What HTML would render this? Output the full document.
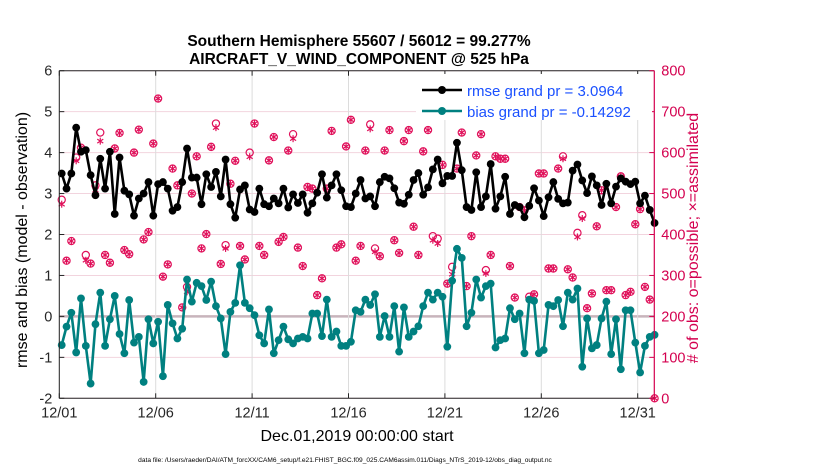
<!DOCTYPE html>
<html><head><meta charset="utf-8"><style>
body{margin:0;background:#fff;}
svg{display:block;font-family:"Liberation Sans",Arial,sans-serif;}
</style></head><body>
<svg id="chart" width="830" height="470" viewBox="0 0 830 470">
<rect width="830" height="470" fill="#fff"/>
<g id="grid"></g>
<g id="marks"></g>
<g id="axes"></g>
<text x="359" y="46" font-size="15.5" font-weight="bold" text-anchor="middle">Southern Hemisphere 55607 / 56012 = 99.277%</text>
<text x="359" y="64" font-size="15.5" font-weight="bold" text-anchor="middle">AIRCRAFT_V_WIND_COMPONENT @ 525 hPa</text>
<text x="357" y="441" font-size="16" text-anchor="middle">Dec.01,2019 00:00:00 start</text>
<text transform="translate(27,240) rotate(-90)" font-size="16" text-anchor="middle">rmse and bias (model - observation)</text>
<text transform="translate(698,238) rotate(-90)" font-size="16" text-anchor="middle" fill="#d4004f"># of obs: o=possible; ×=assimilated</text>
<text x="345" y="462" font-size="6.6" text-anchor="middle">data file: /Users/raeder/DAI/ATM_forcXX/CAM6_setup/f.e21.FHIST_BGC.f09_025.CAM6assim.011/Diags_NTrS_2019-12/obs_diag_output.nc</text>
<g>
<rect x="416" y="74" width="236" height="46" fill="#fff"/>
<g>
<line x1="422" y1="90" x2="462" y2="90" stroke="#000" stroke-width="2.5"/><circle cx="442" cy="90" r="4" fill="#000"/>
<text x="467" y="96" font-size="15" fill="#1a50ff">rmse grand pr = 3.0964</text></g>
<g>
<line x1="422" y1="111" x2="462" y2="111" stroke="#008080" stroke-width="2.5"/><circle cx="442" cy="111" r="4" fill="#008080"/>
<text x="467" y="117" font-size="15" fill="#1a50ff">bias grand pr = -0.14292</text></g>
</g>
</svg>
<script>
const rmse=[3.49,3.12,3.49,4.61,4.02,4.06,3.45,2.96,3.85,3.12,4.02,2.50,3.88,3.07,2.98,2.46,2.88,3.0,3.28,2.46,3.23,3.28,3.12,2.58,2.67,3.28,4.10,3.39,3.39,2.74,3.47,3.16,
3.53,2.93,3.83,2.74,2.41,3.10,3.20,2.61,2.55,3.12,2.74,2.69,2.88,2.76,3.12,2.66,2.98,2.77,2.98,2.53,2.76,3.02,3.47,2.90,3.20,3.47,3.08,2.69,2.67,3.0,
3.33,2.88,2.93,2.69,3.28,3.41,3.37,3.13,2.78,2.75,2.97,3.33,3.50,2.97,3.15,3.59,3.83,3.25,3.43,3.43,4.24,3.57,2.67,2.60,3.52,2.67,2.93,3.72,2.63,2.93,
3.41,2.5,2.72,2.67,2.42,2.7,3.13,2.83,2.45,2.91,3.28,2.87,2.76,2.78,3.56,3.71,3.32,3.01,3.42,3.2,2.72,3.24,2.76,3.17,3.37,3.29,3.23,3.29,2.76,2.95,2.6,2.28];
const bias=[-0.7,-0.25,0.09,-0.88,0.44,-0.72,-1.64,-0.19,0.58,-0.72,-0.07,0.5,-0.43,-0.9,0.4,-0.64,-0.5,-1.6,-0.07,-0.66,-0.13,-1.46,0.28,-0.17,-0.54,-0.3,0.9,0.36,0.82,0.74,0.4,0.85,
0.25,-0.05,-0.92,0.11,0.33,1.25,0.33,0.2,0.03,-0.46,-0.66,0.17,-0.9,-0.58,-0.25,-0.56,-0.66,-0.54,-0.5,-0.54,0.07,0.07,-0.48,0.41,-0.5,-0.37,-0.72,-0.72,-0.62,0.15,
0.11,0.41,0.28,0.54,-0.5,0.01,-0.5,0.25,-0.86,0.22,-0.5,-0.37,-0.24,0.25,0.58,0.41,0.58,0.48,-0.74,0.87,1.65,1.43,-0.24,0.09,0.9,0.46,0.74,0.8,-0.76,-0.58,
-0.54,0.2,-0.07,0.07,-0.9,0.41,0.38,-0.9,-0.82,0.28,0.25,0.4,-0.24,0.58,0.41,0.68,-1.23,-0.05,-0.78,-0.7,-0.05,0.36,-0.92,-0.07,-1.29,0.15,0.15,-0.64,-1.37,-0.72,-0.5,-0.45];
const obsPossible=[485,336,384,588,612,350,329,520,649,350,331,610,648,362,352,600,656,388,406,622,732,297,327,561,520,222,272,500,591,366,401,614,
671,328,374,524,580,372,339,600,671,372,350,581,638,382,394,605,645,368,323,516,512,252,293,512,653,368,376,615,680,336,
372,605,669,366,347,605,655,386,355,628,655,419,350,603,655,396,390,570,280,321,561,649,274,396,593,645,313,350,591,585,
585,323,246,467,459,248,254,549,549,317,317,561,591,315,295,404,447,220,256,420,508,264,264,467,542,252,260,425,462,272,241,0];
const obsAssim=[474,336,384,580,612,337,329,508,628,350,331,610,648,362,352,600,656,388,406,622,732,297,327,561,520,222,260,500,591,366,401,614,
661,328,366,524,580,372,339,590,671,372,350,581,638,382,394,605,634,368,323,516,512,252,293,512,653,368,376,615,680,336,
372,605,658,358,347,605,655,386,355,628,655,419,350,603,655,386,378,570,280,303,561,649,274,396,593,645,305,350,591,585,
585,323,246,467,459,240,254,549,549,317,317,561,585,315,295,394,439,220,256,420,508,264,264,467,542,252,260,425,462,272,241,0];
const xTickLabels=["12/01","12/06","12/11","12/16","12/21","12/26","12/31"];
const yLeftTicks=[-2,-1,0,1,2,3,4,5,6];
const yRightTicks=[0,100,200,300,400,500,600,700,800];

const X0=59.3,DAY=19.28,XR=654.3,YT=70.7,YB=398.3;
const xs=d=>X0+d*DAY;
const yl=v=>YB-(v+2)/8*(YB-YT);
const yr=v=>YB-v/800*(YB-YT);
const tDay=i=>0.125+0.25*i;
const NS="http://www.w3.org/2000/svg";
function mk(tag,attrs,parent){const e=document.createElementNS(NS,tag);for(const k in attrs)e.setAttribute(k,attrs[k]);parent.appendChild(e);return e;}
const grid=document.getElementById('grid'),marks=document.getElementById('marks'),axes=document.getElementById('axes');

yLeftTicks.forEach(v=>{const g=mk('line',{x1:X0,x2:XR,y1:yl(v),y2:yl(v),stroke:v===0?'#c8b4bc':'#f2d4de','stroke-width':v===0?2.5:1},grid);

});
xTickLabels.forEach((t,k)=>{const x=xs(k*5);const g=mk('line',{x1:x,x2:x,y1:YT,y2:YB,stroke:'#dcdcdc','stroke-width':1},grid);

});

obsPossible.forEach((v,i)=>{const c=mk('circle',{cx:xs(tDay(i)),cy:yr(v),r:3.6,fill:'none',stroke:'#e0105a','stroke-width':1.2},marks);

});
obsAssim.forEach((v,i)=>{const x=xs(tDay(i)),y=yr(v);const g=mk('g',{stroke:'#e0105a','stroke-width':1.2},marks);


mk('line',{x1:x,x2:x,y1:y-3.5,y2:y+3.5},g);mk('line',{x1:x-3,x2:x+3,y1:y-2,y2:y+2},g);mk('line',{x1:x-3,x2:x+3,y1:y+2,y2:y-2},g);});

function series(arr,color,name){
const p=mk('polyline',{points:arr.map((v,i)=>xs(tDay(i))+','+yl(v)).join(' '),fill:'none',stroke:color,'stroke-width':2.6,'stroke-linejoin':'round'},marks);


arr.forEach((v,i)=>{const c=mk('circle',{cx:xs(tDay(i)),cy:yl(v),r:3.9,fill:color},marks);

});}
series(rmse,'#000','rmse');
series(bias,'#008080','bias');

mk('line',{x1:X0,x2:XR,y1:YT,y2:YT,stroke:'#262626','stroke-width':1},axes);
mk('line',{x1:X0,x2:XR,y1:YB,y2:YB,stroke:'#262626','stroke-width':1},axes);
mk('line',{x1:X0,x2:X0,y1:YT,y2:YB,stroke:'#262626','stroke-width':1},axes);
mk('line',{x1:XR,x2:XR,y1:YT,y2:YB,stroke:'#d4004f','stroke-width':1.2},axes);
xTickLabels.forEach((t,k)=>{const x=xs(k*5);
mk('line',{x1:x,x2:x,y1:YB,y2:YB-5,stroke:'#262626'},axes);mk('line',{x1:x,x2:x,y1:YT,y2:YT+5,stroke:'#262626'},axes);
const e=mk('text',{x:x,y:YB+19,'font-size':14.5,'text-anchor':'middle',fill:'#262626'},axes);e.textContent=t;

});
yLeftTicks.forEach(v=>{const y=yl(v);mk('line',{x1:X0,x2:X0+5,y1:y,y2:y,stroke:'#262626'},axes);
const e=mk('text',{x:X0-7,y:y+5,'font-size':14.5,'text-anchor':'end',fill:'#262626'},axes);e.textContent=v;

});
yRightTicks.forEach(v=>{const y=yr(v);mk('line',{x1:XR-5,x2:XR,y1:y,y2:y,stroke:'#d4004f'},axes);
const e=mk('text',{x:XR+7,y:y+5,'font-size':14.5,'text-anchor':'start',fill:'#d4004f'},axes);e.textContent=v;

});
</script>
</body></html>
